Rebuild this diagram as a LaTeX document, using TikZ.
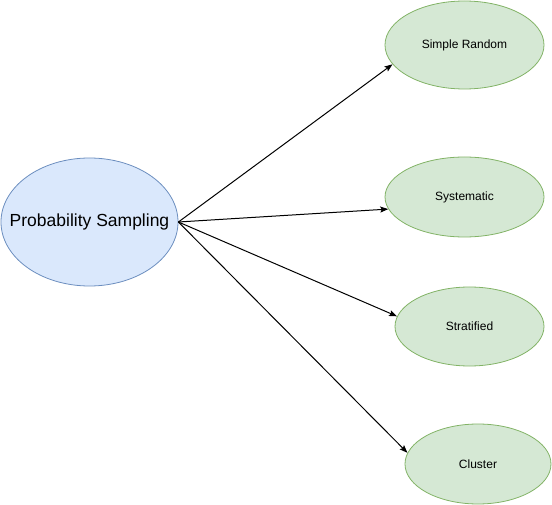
\documentclass[tikz,border=0pt]{standalone}
\usepackage{fontspec}
\setmainfont{Liberation Sans}
\usetikzlibrary{shapes.geometric,arrows.meta}
\definecolor{bluefill}{HTML}{DAE8FC}
\definecolor{bluedraw}{HTML}{6C8EBF}
\definecolor{greenfill}{HTML}{D5E8D4}
\definecolor{greendraw}{HTML}{82B366}
\newcommand{\zw}[1]{\makebox[0pt]{#1}}
\tikzset{
  mainell/.style={ellipse, draw=bluedraw, fill=bluefill, line width=0.8pt, inner sep=0pt, font=\fontsize{17.5}{20}\selectfont},
  subell/.style={ellipse, draw=greendraw, fill=greenfill, line width=0.8pt, inner sep=0pt, font=\fontsize{12}{14}\selectfont},
  conn/.style={line width=1pt, -{Stealth[length=8pt,width=6pt,inset=1.5pt]}}
}
\begin{document}
\begin{tikzpicture}[x=1pt,y=-1pt]
\useasboundingbox (0,0) rectangle (552,505);
\node[mainell, minimum width=177pt, minimum height=128pt] (ps) at (89.5,222) {\zw{Probability Sampling}};
\node[subell, minimum width=159pt, minimum height=88pt] (sr) at (464.5,45) {\zw{Simple Random}};
\node[subell, minimum width=159pt, minimum height=80pt] (sy) at (464.5,197) {\zw{Systematic}};
\node[subell, minimum width=149pt, minimum height=79pt] (st) at (469.5,326.5) {\zw{Stratified}};
\node[subell, minimum width=146pt, minimum height=80pt] (cl) at (478,464) {\zw{Cluster}};
\draw[conn] (ps.east) -- (sr.195);
\draw[conn] (ps.east) -- (sy.189);
\draw[conn] (ps.east) -- (st.172);
\draw[conn] (ps.east) -- (cl.171);
\end{tikzpicture}
\end{document}
